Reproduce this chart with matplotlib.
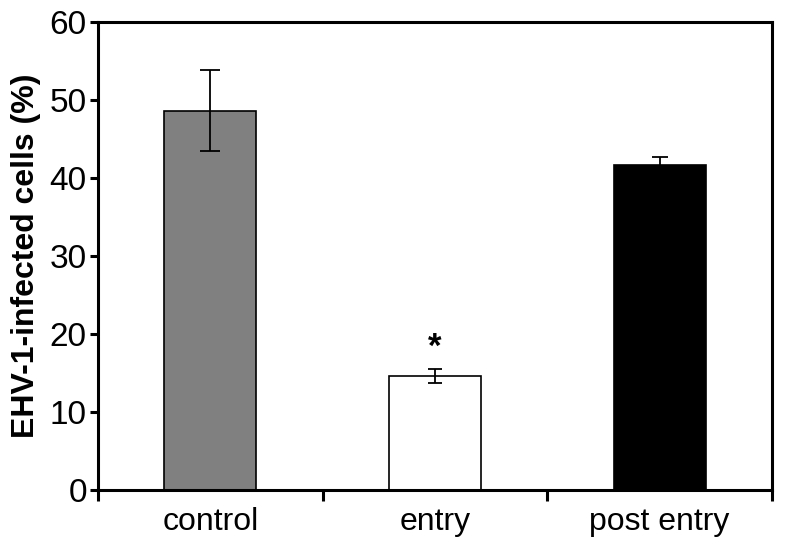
import matplotlib
matplotlib.use("Agg")
import matplotlib.pyplot as plt
import numpy as np

categories = ["control", "entry", "post entry"]
values = [48.6, 14.6, 41.7]
errors = [5.2, 0.9, 1.0]
colors = ["#808080", "#ffffff", "#000000"]
yticks = [0, 10, 20, 30, 40, 50, 60]

plt.rcParams['font.family'] = ['Liberation Sans', 'DejaVu Sans']

fig = plt.figure(figsize=(7.85, 5.55), dpi=100)
ax = fig.add_axes([0.1248, 0.1171, 0.9834 - 0.1248, 0.9604 - 0.1171])

x = np.arange(1, len(categories) + 1)
ax.bar(x, values, width=0.41, color=colors, edgecolor="black", linewidth=1.2, zorder=2)
caps = [7, 5, 5.5]
for xi, v, e, c in zip(x, values, errors, caps):
    ax.errorbar(xi, v, yerr=e, fmt="none", ecolor="black", elinewidth=1.3,
                capsize=c, capthick=1.3, zorder=3)

ax.text(2, values[1] + errors[1] + 0.7, "*", ha="center", va="bottom",
        fontsize=25, fontweight="bold")

ax.set_xlim(0.5, 3.5)
ax.set_ylim(0, 60)
ax.set_yticks(yticks)
ax.set_yticklabels([str(t) for t in yticks], fontsize=24)

ax.set_xticks([0.5, 1.5, 2.5, 3.5])
ax.set_xticklabels([])
ax.set_xticks(x, minor=True)
ax.set_xticklabels(categories, minor=True, fontsize=23)
ax.tick_params(axis="x", which="minor", length=0, pad=12)
ax.tick_params(axis="x", which="major", length=8, width=2.2, direction="out")
ax.tick_params(axis="y", length=6, width=2.2, direction="out", pad=2)

for s in ax.spines.values():
    s.set_linewidth(2.2)

ax.set_ylabel("EHV-1-infected cells (%)", fontsize=23, fontweight="bold", labelpad=6)

fig.savefig("out.png", dpi=100)
